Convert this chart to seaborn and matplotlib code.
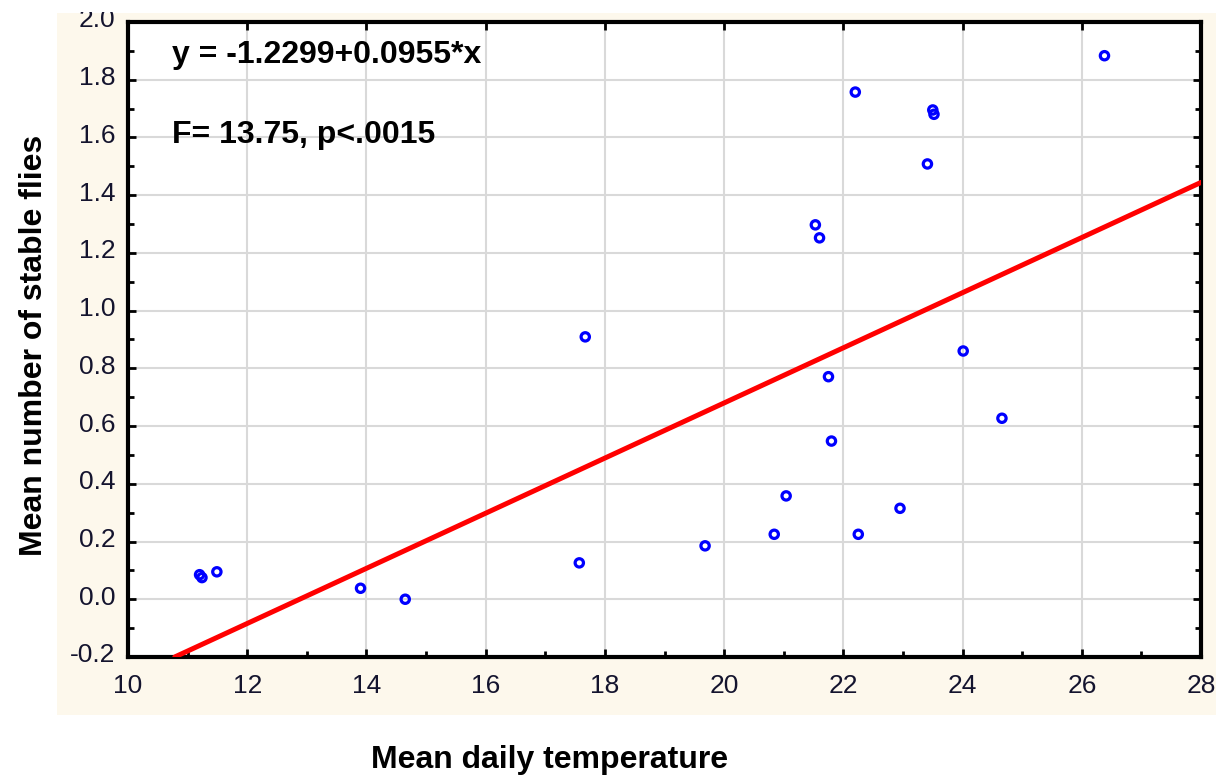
import matplotlib
matplotlib.use("Agg")
import matplotlib.pyplot as plt
import matplotlib.patches as mpatches
import matplotlib.transforms as mtransforms
from matplotlib.ticker import MultipleLocator, FormatStrFormatter
import seaborn as sns
import pandas as pd

# ---- data ----
temperature = [11.20, 11.24, 11.49, 13.90, 14.65, 17.57, 17.67, 19.68, 20.84, 21.04,
               21.53, 21.60, 21.75, 21.80, 22.20, 22.25, 22.95, 23.41, 23.50, 23.52,
               24.01, 24.66, 26.38]
stable_flies = [0.085, 0.075, 0.095, 0.038, 0.000, 0.126, 0.909, 0.185, 0.225, 0.358,
                1.297, 1.252, 0.771, 0.548, 1.757, 0.225, 0.315, 1.508, 1.695, 1.680,
                0.860, 0.627, 1.883]
intercept = -1.2299
slope = 0.0955
eq_text = "y = -1.2299+0.0955*x"
stat_text = "F= 13.75, p<.0015"
x_label = "Mean daily temperature"
y_label = "Mean number of stable flies"

df = pd.DataFrame({"temp": temperature, "flies": stable_flies})

sns.set_style("white")
plt.rcParams["font.family"] = ["Liberation Sans", "DejaVu Sans"]
plt.rcParams["text.color"] = "black"
plt.rcParams["axes.labelcolor"] = "black"

fig = plt.figure(figsize=(12.16, 7.75), dpi=100, facecolor="white")
cream = mpatches.Rectangle((0.0469, 0.0774), 0.9531, 0.9058, transform=fig.transFigure,
                           facecolor="#fdf8ec", edgecolor="none", zorder=-10)
fig.patches.append(cream)
# white strip above the cream panel (cuts the top "2.0" label as in the reference)
top_mask = mpatches.Rectangle((0.0, 0.9845), 1.0, 0.02, transform=fig.transFigure,
                              facecolor="white", edgecolor="none", zorder=20)
fig.patches.append(top_mask)

ax = fig.add_axes([0.1053, 0.1523, 0.8824, 0.8194])
ax.set_facecolor("white")

ax.axline((0, intercept), slope=slope, color="#ff0000", lw=3.6, zorder=3)
sns.scatterplot(data=df, x="temp", y="flies", ax=ax, marker="o", s=36,
                facecolor="none", edgecolor="#0000ff", linewidth=2.3, zorder=4)

ax.set_xlim(10, 28)
ax.set_ylim(-0.2, 2.0)
ax.xaxis.set_major_locator(MultipleLocator(2))
ax.xaxis.set_minor_locator(MultipleLocator(1))
ax.yaxis.set_major_locator(MultipleLocator(0.2))
ax.yaxis.set_minor_locator(MultipleLocator(0.1))
ax.yaxis.set_major_formatter(FormatStrFormatter("%.1f"))
ax.xaxis.set_major_formatter(FormatStrFormatter("%d"))

ax.grid(True, which="major", color="#d9d9d9", lw=1.5, zorder=0)
ax.set_axisbelow(True)

for sp in ax.spines.values():
    sp.set_visible(True)
    sp.set_color("black")
    sp.set_linewidth(3)

ax.tick_params(which="both", direction="in", color="black", width=2,
               top=True, right=True, bottom=True, left=True)
ax.tick_params(which="major", length=6)
ax.tick_params(which="minor", length=4, top=False)
ax.tick_params(axis="x", which="major", pad=12, labelsize=19, labelcolor="#14142e")
ax.tick_params(axis="y", which="major", pad=9, labelsize=19, labelcolor="#14142e")

# y tick labels sit a few pixels above their ticks in the reference
shift_up = mtransforms.ScaledTranslation(0, 4 / 100, fig.dpi_scale_trans)
for tk in ax.yaxis.get_major_ticks():
    tk.label1.set_transform(tk.label1.get_transform() + shift_up)

ax.set_xlabel(x_label, fontsize=23, fontweight="bold", va="center", color="black")
ax.set_ylabel(y_label, fontsize=23, fontweight="bold", va="center", color="black")
ax.xaxis.set_label_coords(0.393, -0.162)
ax.yaxis.set_label_coords(-0.088, 0.491)

ax.text(0.041, 0.948, eq_text, transform=ax.transAxes, fontsize=23,
        fontweight="bold", va="center", ha="left", color="black", zorder=5)
ax.text(0.041, 0.822, stat_text, transform=ax.transAxes, fontsize=23,
        fontweight="bold", va="center", ha="left", color="black", zorder=5)

fig.savefig("out.png", dpi=100, facecolor="white")
